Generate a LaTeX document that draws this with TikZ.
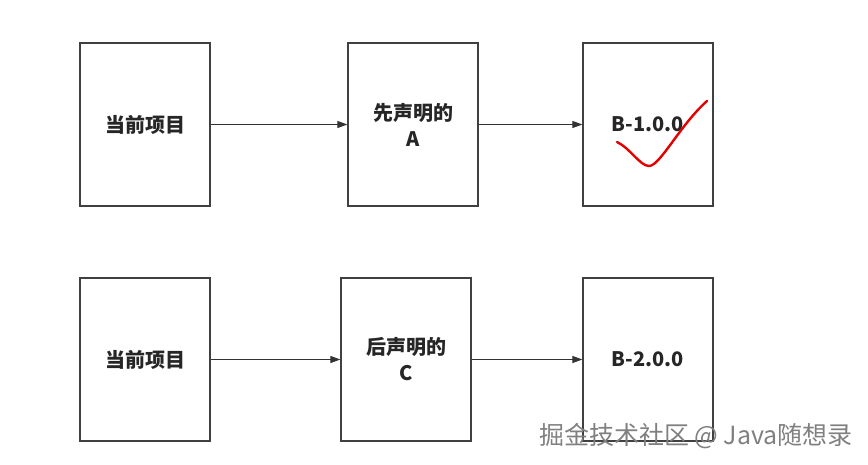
\documentclass[tikz,border=0pt]{standalone}
\usepackage{fontspec}
\setmainfont{Noto Sans CJK SC}
\usetikzlibrary{arrows.meta}

\begin{document}
\begin{tikzpicture}[x=1pt,y=-1pt,
	box/.style={draw=black!75, line width=1.2pt, minimum width=130pt, minimum height=163pt,
		align=center, font=\fontsize{20}{26}\selectfont\bfseries, text=black!85},
	arr/.style={-{Triangle[length=10pt,width=7pt]}, draw=black!80, line width=0.9pt}]
	\useasboundingbox (0,0) rectangle (868,465);
	\node[box] (A) at (145,124.5) {当前项目};
	\node[box] (B) at (413,124.5) {先声明的\\A};
	\node[box] (C) at (648,124.5) {B-1.0.0};
	\node[box] (D) at (145,359.5) {当前项目};
	\node[box] (E) at (406,359.5) {后声明的\\C};
	\node[box] (F) at (648,359.5) {B-2.0.0};
	
	
	\draw[arr] (A) -- (B);
	\draw[arr] (B) -- (C);
	\draw[arr] (D) -- (E);
	\draw[arr] (E) -- (F);
	
	% check mark
	\draw[red!90!black, line width=2.4pt, line cap=round] (617,142) .. controls (630,148) and (640,166) .. (649,166)
		.. controls (660,166) and (680,125) .. (707,101);
	
	\node[text=black!50, font=\fontsize{25}{28}\selectfont] (W) at (696,436) {掘金技术社区 @ Java随想录};
\end{tikzpicture}
\end{document}
